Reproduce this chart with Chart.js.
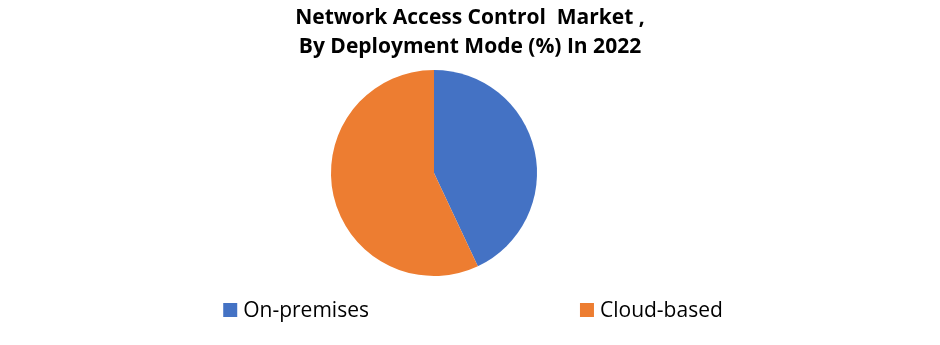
<!DOCTYPE html>
<html>
<head>
<meta charset="utf-8">
<script src="https://cdn.jsdelivr.net/npm/chart.js@4/dist/chart.umd.min.js"></script>
<style>
  html, body { margin: 0; padding: 0; background: #fff; }
  #wrap { width: 940px; height: 345px; }
</style>
</head>
<body>
<div id="wrap"><canvas id="myChart" width="940" height="345"></canvas></div>
<script>
  const labels = ['On-premises', 'Cloud-based'];
  const shares = [43, 57];
  const colors = ['#4472C4', '#ED7D31'];
  const titleLines = ['Network Access Control  Market ,', 'By Deployment Mode (%) In 2022'];

  // pie sits left of the page centre in the original, so trim the area on the right
  const shiftPie = {
    id: 'shiftPie',
    afterLayout: (chart, args, opts) => {
      const area = chart.chartArea;
      area.right -= opts.trim;
      area.width = area.right - area.left;
    },
    defaults: { trim: 72 }
  };

  // wide legend drawn by hand, the built-in one ties row gap to item gap
  const wideLegend = {
    id: 'wideLegend',
    afterDraw: (chart, args, opts) => {
      const { ctx } = chart;
      const meta = chart.getDatasetMeta(0);
      const ds = chart.data.datasets[0];
      ctx.save();
      ctx.font = opts.size + 'px ' + opts.family;
      ctx.textBaseline = 'middle';
      const widths = chart.data.labels.map(l => ctx.measureText(l).width);
      let total = 0;
      widths.forEach((w, i) => {
        total += opts.box + opts.textGap + w;
        if (i > 0) total += opts.gap;
      });
      let x = chart.width / 2 + opts.centerShift - total / 2;
      chart.data.labels.forEach((label, i) => {
        if (meta.data[i] && !chart.getDataVisibility(i)) return;
        ctx.fillStyle = ds.backgroundColor[i];
        ctx.fillRect(x, opts.y - opts.box / 2, opts.box, opts.box);
        x += opts.box + opts.textGap;
        ctx.fillStyle = '#000';
        ctx.fillText(label, x, opts.y + 1);
        x += widths[i] + opts.gap;
      });
      ctx.restore();
    },
    defaults: { y: 310, box: 14, textGap: 6, gap: 211, centerShift: 3, size: 21, family: 'Open Sans' }
  };

  const config = {
    type: 'pie',
    data: {
      labels: labels,
      datasets: [
        {
          data: shares,
          backgroundColor: colors,
          borderWidth: 0,
        }
      ],
    },
    options: {
      responsive: false,
      animation: false,
      layout: {
        padding: { top: 0, bottom: 69 }
      },
      plugins: {
        title: {
          display: true,
          text: titleLines,
          color: '#000',
          font: { family: 'Open Sans', size: 21, weight: 'bold', lineHeight: 1.38 },
          padding: { top: 3.5, bottom: 8.5 }
        },
        legend: { display: false },
        tooltip: { enabled: false }
      }
    },
    plugins: [shiftPie, wideLegend]
  };

  new Chart(document.getElementById('myChart').getContext('2d'), config);
</script>
</body>
</html>
